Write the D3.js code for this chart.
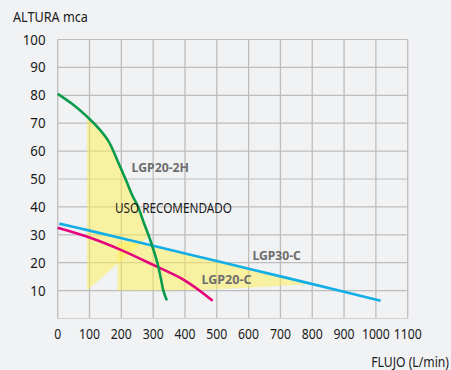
<!DOCTYPE html>
<html><head><meta charset="utf-8">
<script src="https://cdn.jsdelivr.net/npm/d3@7"></script>
<style>
html,body{margin:0;padding:0;background:#f1f2f4;}
svg{display:block;font-family:"Noto Sans","Open Sans",sans-serif;}
</style></head>
<body>
<svg id="c" width="451" height="370"></svg>
<script>
// ---- data ----
const xTicks = [0,100,200,300,400,500,600,700,800,900,1000,1100];
const yTicks = [10,20,30,40,50,60,70,80,90,100];
const yGrid = [0,10,20,30,40,50,60,70,80,90,100];
const lgp20_2H = [[0,80.5],[50,76.5],[100,71.5],[130,68],[160,63.5],[190,56],[215,49.5],[235,44],[253,40],[270,34.5],[285,30],[300,25],[313,20],[324,14.5],[332,10],[343,6.5]];
const lgp30_C = [[5,34],[100,31.5],[300,26.1],[500,20.6],[700,15.1],[900,9.6],[1015,6.4]];
const lgp20_C = [[0,32.5],[100,29],[200,24.5],[300,19.2],[400,13.6],[487,6.4]];
const zoneA = [[92,10],[92,72.2],[100,71.5],[130,68],[160,63.5],[190,56],[215,49.5],[235,44],[253,40],[270,34.5],[286,29.4]];
const zoneB = [[188,10],[188,27.3],[255,27.3],[300,26.1],[500,20.6],[700,15.1],[800,12.4],[640,11.3],[450,10.2]];
const labels = [
  {t:"LGP20-2H", x:232, y:52.5},
  {t:"LGP30-C", x:612, y:20.8},
  {t:"LGP20-C", x:452, y:12.4}
];

const svg = d3.select("#c");
const x = d3.scaleLinear().domain([0,1100]).range([57.7,407.7]);
const y = d3.scaleLinear().domain([0,100]).range([318.5,39.5]);

// grid
const g = svg.append("g");
g.selectAll("line.v").data(xTicks).join("line")
  .attr("x1",d=>x(d)).attr("x2",d=>x(d)).attr("y1",y(100)).attr("y2",y(0))
  .attr("stroke","#bdbdbd").attr("stroke-width",1.3);
g.selectAll("line.h").data(yGrid).join("line")
  .attr("x1",x(0)).attr("x2",x(1100)).attr("y1",d=>y(d)).attr("y2",d=>y(d))
  .attr("stroke",d=>d===0?"#cfcfcf":"#bdbdbd").attr("stroke-width",1.2);

// recommended zones
const poly = d3.line().x(d=>x(d[0])).y(d=>y(d[1]));
[zoneA, zoneB].forEach(z=>{
  svg.append("path").attr("d",poly(z)+"Z")
    .attr("fill","#fff050").attr("fill-opacity",0.5);
});

// curves
const line = d3.line().x(d=>x(d[0])).y(d=>y(d[1])).curve(d3.curveCatmullRom.alpha(0.5));
[[lgp30_C,"#12aee6"],[lgp20_C,"#e4007c"],[lgp20_2H,"#0a9a4c"]].forEach(([data,c])=>{
  svg.append("path").attr("d",line(data)).attr("fill","none")
    .attr("stroke",c).attr("stroke-width",2.6);
});

// helper: horizontally condensed text via transform scale
function condensed(sel, tx, ty, width, anchor){
  const len = sel.node().getComputedTextLength();
  const sx = width/len;
  sel.attr("text-anchor",anchor||"start")
     .attr("transform",`translate(${tx},${ty}) scale(${sx},1)`);
}

// axis labels
svg.append("g").selectAll("text").data(yTicks).join("text")
  .attr("x",45.5).attr("y",d=>y(d)+5).attr("text-anchor","end")
  .attr("font-size",13.5).attr("fill","#1a1a1a")
  .attr("textLength",d=>String(d).length*7.6).attr("lengthAdjust","spacingAndGlyphs").text(d=>d);
svg.append("g").selectAll("text").data(xTicks).join("text")
  .attr("x",d=>x(d)).attr("y",339).attr("text-anchor","middle")
  .attr("font-size",13.5).attr("fill","#1a1a1a")
  .attr("textLength",d=>String(d).length*7).attr("lengthAdjust","spacingAndGlyphs").text(d=>d);

const t1 = svg.append("text").attr("font-size",15).attr("fill","#1a1a1a").text("ALTURA mca");
condensed(t1, 13, 21.5, 75, "start");
const t2 = svg.append("text").attr("font-size",15).attr("fill","#1a1a1a").text("FLUJO (L/min)");
condensed(t2, 449, 367, 78, "end");

// series labels
const lw = {"LGP20-2H":57.5,"LGP30-C":48.5,"LGP20-C":50};
svg.append("g").selectAll("text").data(labels).join("text")
  .attr("x",d=>x(d.x)).attr("y",d=>y(d.y)).attr("font-size",11.5).attr("font-weight","bold")
  .attr("fill","#6d6d6d").attr("textLength",d=>lw[d.t]).attr("lengthAdjust","spacingAndGlyphs").text(d=>d.t);

const t3 = svg.append("text").attr("font-size",14).attr("fill","#1a1a1a").text("USO RECOMENDADO");
condensed(t3, 115, 213, 117, "start");
</script>
</body></html>
